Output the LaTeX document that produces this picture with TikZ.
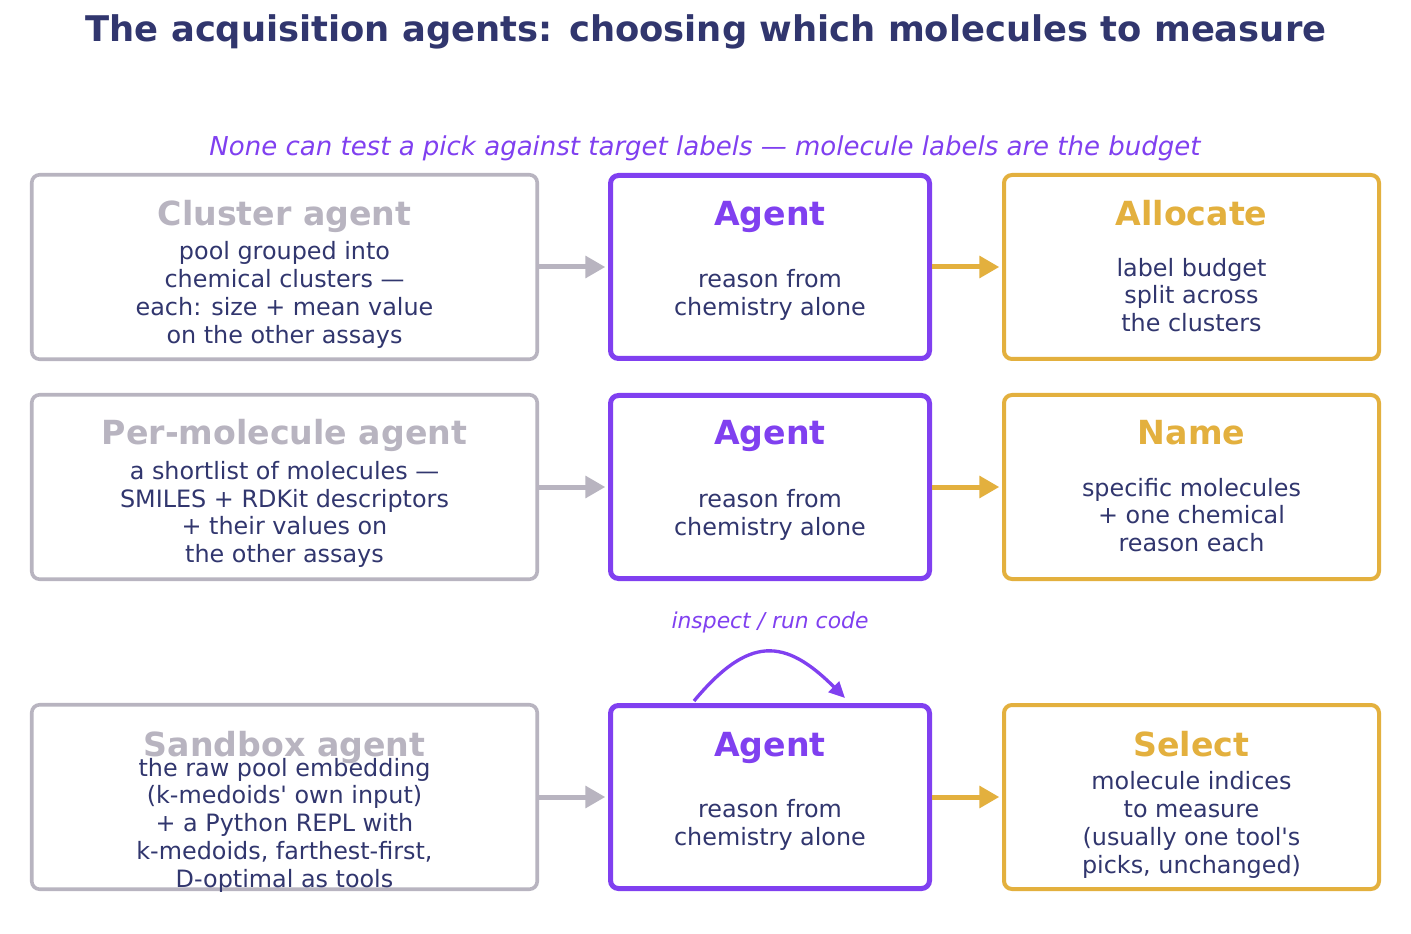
\documentclass[tikz,border=0pt]{standalone}
\usepackage{fontspec}
\setmainfont{DejaVu Sans}[Ligatures=TeXOff]
\usetikzlibrary{arrows.meta,fit,calc}
\definecolor{navy}{HTML}{31366E}
\definecolor{vio}{HTML}{8040F0}
\definecolor{gold}{HTML}{E3B03E}
\definecolor{greyb}{HTML}{B8B4C0}
\begin{document}
\begin{tikzpicture}[x=0.75pt,y=-0.75pt,
  box/.style={draw, rounded corners=6pt, inner sep=0pt, fill=white},
  inbox/.style={box, draw=greyb, line width=2.7pt},
  agbox/.style={box, draw=vio, line width=3.75pt},
  outbox/.style={box, draw=gold, line width=3pt},
  ttl/.style={font=\fontsize{24.9}{29}\selectfont\bfseries, anchor=base, inner sep=0pt},
  body/.style={font=\fontsize{17.9}{20.8}\selectfont, text=navy, align=center, inner sep=0pt},
  flow/.style={line width=3.75pt, -{Triangle[length=15pt,width=16pt]}, shorten >=2pt},
  loopar/.style={vio, line width=2.5pt, -{Triangle[length=12pt,width=11pt]}},
]
\fill[white] (0,0) rectangle (1411,934);
\useasboundingbox (0,0) rectangle (1411,934);

\node[font=\fontsize{26.5}{30}\selectfont\bfseries, text=navy, anchor=base, inner sep=0pt] (title) at (706,42) {The acquisition agents: choosing which molecules to measure};
\node[font=\fontsize{19.5}{23}\selectfont\itshape, text=vio, anchor=base, inner sep=0pt] (sub) at (705,156) {None can test a pick against target labels — molecule labels are the budget};

% row 1
\node[inbox, fit={(31.75,174.75) (537.25,359.25)}] (in1) {};
\node[agbox, fit={(610.5,175.5) (929.5,358.5)}] (ag1) {};
\node[outbox, fit={(1004,175) (1379,359)}] (out1) {};
% row 2
\node[inbox, fit={(31.75,394.75) (537.25,579.25)}] (in2) {};
\node[agbox, fit={(610.5,395.5) (929.5,578.5)}] (ag2) {};
\node[outbox, fit={(1004,395) (1379,579)}] (out2) {};
% row 3
\node[inbox, fit={(31.75,704.75) (537.25,889.25)}] (in3) {};
\node[agbox, fit={(610.5,705.5) (929.5,888.5)}] (ag3) {};
\node[outbox, fit={(1004,705) (1379,889)}] (out3) {};

% titles
\node[ttl, text=greyb] (in1t) at (284.5,226) {Cluster agent};
\node[ttl, text=vio] (ag1t) at (770,226) {Agent};
\node[ttl, text=gold] (out1t) at (1191.5,226) {Allocate};
\node[ttl, text=greyb] (in2t) at (284.5,445) {Per-molecule agent};
\node[ttl, text=vio] (ag2t) at (770,445) {Agent};
\node[ttl, text=gold] (out2t) at (1191.5,445) {Name};
\node[ttl, text=greyb] (in3t) at (284.5,756) {Sandbox agent};
\node[ttl, text=vio] (ag3t) at (770,756) {Agent};
\node[ttl, text=gold] (out3t) at (1191.5,756) {Select};

% bodies
\node[body] (in1b) at (284.5,295) {pool grouped into\\chemical clusters —\\each: size + mean value\\on the other assays};
\node[body] (ag1b) at (770,295) {reason from\\chemistry alone};
\node[body] (out1b) at (1191.5,295) {label budget\\split across\\the clusters};
\node[body] (in2b) at (284.5,514.5) {a shortlist of molecules —\\SMILES + RDKit descriptors\\+ their values on\\the other assays};
\node[body] (ag2b) at (770,515) {reason from\\chemistry alone};
\node[body] (out2b) at (1191.5,515) {specific molecules\\+ one chemical\\reason each};
\node[body] (in3b) at (284.5,825) {the raw pool embedding\\(k-medoids' own input)\\+ a Python REPL with\\k-medoids, farthest-first,\\D-optimal as tools};
\node[body] (ag3b) at (770,825) {reason from\\chemistry alone};
\node[body] (out3b) at (1191.5,825) {molecule indices\\to measure\\(usually one tool's\\picks, unchanged)};

% flows
\draw[flow, greyb] (in1.east) -- (ag1.west);
\draw[flow, gold] (ag1.east) -- (out1.west);
\draw[flow, greyb] (in2.east) -- (ag2.west);
\draw[flow, gold] (ag2.east) -- (out2.west);
\draw[flow, greyb] (in3.east) -- (ag3.west);
\draw[flow, gold] (ag3.east) -- (out3.west);

% self loop
\coordinate (ls) at ($(ag3.north)+(-76,-2)$);
\coordinate (le) at ($(ag3.north)+(75,-5)$);
\draw[loopar] (ls) .. controls +(55,-66) and +(-60,-60) .. (le);
\node[font=\fontsize{16.4}{19}\selectfont\itshape, text=vio, anchor=base, inner sep=0pt] (lbl) at (770,628) {inspect / run code};
\end{tikzpicture}
\end{document}
